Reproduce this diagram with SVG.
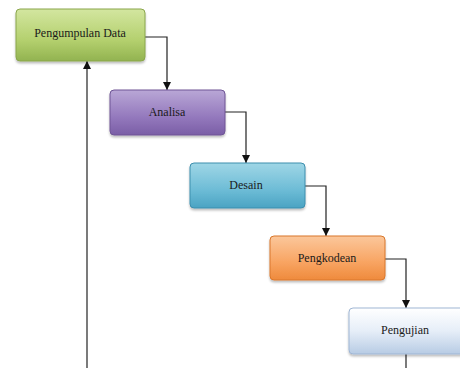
<svg xmlns="http://www.w3.org/2000/svg" width="460" height="368" viewBox="0 0 460 368">
<defs>
<linearGradient id="gGreen" x1="0" y1="0" x2="0" y2="1"><stop offset="0" stop-color="#d3e6a0"/><stop offset="0.6" stop-color="#b4d06e"/><stop offset="1" stop-color="#92b350"/></linearGradient>
<linearGradient id="gPurple" x1="0" y1="0" x2="0" y2="1"><stop offset="0" stop-color="#b9a7d6"/><stop offset="0.6" stop-color="#9479bd"/><stop offset="1" stop-color="#7a5ea6"/></linearGradient>
<linearGradient id="gBlue" x1="0" y1="0" x2="0" y2="1"><stop offset="0" stop-color="#9fd6e6"/><stop offset="0.6" stop-color="#6dbcd6"/><stop offset="1" stop-color="#4aa3c3"/></linearGradient>
<linearGradient id="gOrange" x1="0" y1="0" x2="0" y2="1"><stop offset="0" stop-color="#fbc79b"/><stop offset="0.6" stop-color="#f8a462"/><stop offset="1" stop-color="#ef8a3c"/></linearGradient>
<linearGradient id="gWhite" x1="0" y1="0" x2="0" y2="1"><stop offset="0" stop-color="#ffffff"/><stop offset="0.5" stop-color="#e6eef8"/><stop offset="1" stop-color="#b7cbe4"/></linearGradient>
<filter id="sh" x="-10%" y="-10%" width="120%" height="130%"><feDropShadow dx="0" dy="2" stdDeviation="1.2" flood-color="#000" flood-opacity="0.25"/></filter>
<marker id="arr" viewBox="0 0 8 10" refX="8" refY="5" markerWidth="8" markerHeight="10" orient="auto" markerUnits="userSpaceOnUse"><path d="M0,1 L8,5 L0,9 Z" fill="#111"/></marker>
</defs>
<style>
.box{filter:url(#sh);stroke-width:1}
.lbl{font-family:"Liberation Serif","Times New Roman",serif;font-size:12px;fill:#1a1a1a;text-anchor:middle;dominant-baseline:central}
.con{fill:none;stroke:#222;stroke-width:1.2}
</style>
<rect width="460" height="368" fill="#ffffff"/>
<g id="connectors">
<path class="con" d="M145,37 H167 V90" marker-end="url(#arr)"/>
<path class="con" d="M225,112 H246 V163" marker-end="url(#arr)"/>
<path class="con" d="M305,186 H326 V236" marker-end="url(#arr)"/>
<path class="con" d="M385,259 H406 V308" marker-end="url(#arr)"/>
<path class="con" d="M406,354 V368"/>
<path class="con" d="M87,368 V61" marker-end="url(#arr)"/>
</g>
<g id="n1">
<rect class="box" x="16" y="9" width="129" height="52" rx="4" fill="url(#gGreen)" stroke="#8aa64c"/>
<text class="lbl" x="80" y="33">Pengumpulan Data</text>
</g>
<g id="n2">
<rect class="box" x="110" y="90" width="115" height="45" rx="4" fill="url(#gPurple)" stroke="#6e5495"/>
<text class="lbl" x="167" y="112">Analisa</text>
</g>
<g id="n3">
<rect class="box" x="190" y="163" width="115" height="45" rx="4" fill="url(#gBlue)" stroke="#3d8fae"/>
<text class="lbl" x="246" y="185">Desain</text>
</g>
<g id="n4">
<rect class="box" x="270" y="236" width="115" height="44" rx="4" fill="url(#gOrange)" stroke="#d9772c"/>
<text class="lbl" x="327" y="258">Pengkodean</text>
</g>
<g id="n5">
<rect class="box" x="349" y="308" width="118" height="46" rx="4" fill="url(#gWhite)" stroke="#9fb6d4"/>
<text class="lbl" x="405" y="330">Pengujian</text>
</g>
</svg>
